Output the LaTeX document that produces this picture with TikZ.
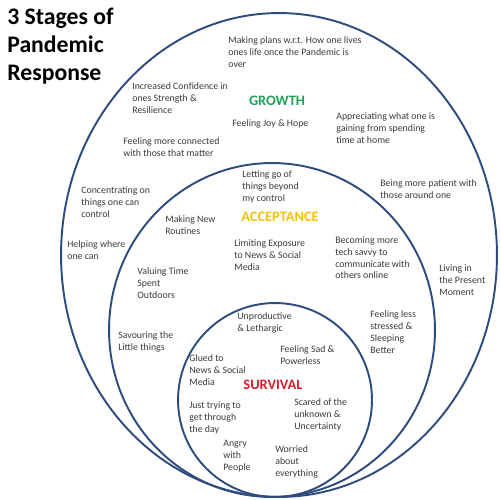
\documentclass[tikz,border=0pt]{standalone}
\usepackage{fontspec}
\setmainfont{Carlito}
\usepackage{xcolor}
\definecolor{ring}{HTML}{2F4C7E}
\definecolor{growth}{HTML}{22A05A}
\definecolor{accept}{HTML}{F2C10E}
\definecolor{survive}{HTML}{D91E2A}
\definecolor{txt}{HTML}{3A3A3A}
\begin{document}
\begin{tikzpicture}[x=.02cm, y=-.02cm,
        note/.style={anchor=north west, inner sep=0, align=left, text=txt, font=\fontsize{5.6}{6.8}\selectfont},
        stage/.style={inner sep=0, font=\fontsize{8.2}{9}\selectfont\bfseries}]
            \useasboundingbox (0,0) rectangle (500,500);
            \draw[ring, line width=1.1pt] (279,255) ellipse [x radius=4.36cm, y radius=4.84cm];
            \draw[ring, line width=1.1pt] (272,330) ellipse [x radius=3.26cm, y radius=3.34cm];
            \draw[ring, line width=1.1pt] (275,400) circle [radius=1.94cm];
            \node[anchor=north west, inner sep=0, align=left, font=\fontsize{13.5}{15.9}\selectfont\bfseries] (title) at (7,8) {3 Stages of\\Pandemic\\Response};
            % growth
            \node[stage, growth] (growth) at (277,101) {GROWTH};
            \node[note] (plans) at (228,36) {Making plans w.r.t. How one lives\\ones life once the Pandemic is\\over};
            \node[note] (confid) at (132,82) {Increased Confidence in\\ones Strength \&\\Resilience};
            \node[note] (joy) at (232,119) {Feeling Joy \& Hope};
            \node[note] (apprec) at (336,112) {Appreciating what one is\\gaining from spending\\time at home};
            \node[note] (connect) at (123,137) {Feeling more connected\\with those  that matter};
            \node[note] (patient) at (380,179) {Being more patient with\\those around one};
            \node[note] (concen) at (81,186) {Concentrating on\\things one can\\control};
            \node[note] (helping) at (67,240) {Helping where\\one can};
            \node[note] (present) at (439,264) {Living in\\the Present\\Moment};
            \node[note] (savour) at (118,331) {Savouring the\\Little things};
            % acceptance
            \node[stage, accept] (accept) at (280,217) {ACCEPTANCE};
            \node[note] (letgo) at (242,170) {Letting go of\\things beyond\\my control};
            \node[note] (routine) at (165,215) {Making New\\Routines};
            \node[note] (limit) at (234,239) {Limiting Exposure\\to News \& Social\\Media};
            \node[note] (savvy) at (335,236) {Becoming more\\tech savvy to\\communicate with\\others online};
            \node[note] (outdoor) at (137,267) {Valuing Time\\Spent\\Outdoors};
            \node[note] (stress) at (370,310) {Feeling less\\stressed \&\\Sleeping\\Better};
            % survival
            \node[stage, survive] (survive) at (273,385) {SURVIVAL};
            \node[note] (lethar) at (237,312) {Unproductive\\\& Lethargic};
            \node[note] (glued) at (189,354) {Glued to\\News \& Social\\Media};
            \node[note] (sad) at (280,345) {Feeling Sad \&\\Powerless};
            \node[note] (trying) at (189,401) {Just trying to\\get through\\the day};
            \node[note] (scared) at (294,398) {Scared of the\\unknown \&\\Uncertainty};
            \node[note] (angry) at (223,440) {Angry\\with\\People};
            \node[note] (worry) at (275,445) {Worried\\about\\everything};
        \end{tikzpicture}
\end{document}
